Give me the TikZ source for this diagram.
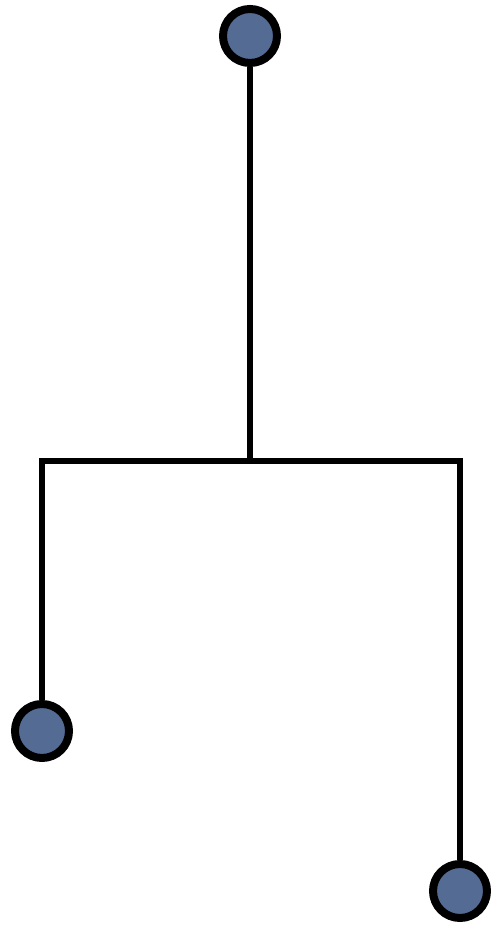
\documentclass[tikz,border=0pt]{standalone}
\usepackage{tikz}

\definecolor{bobblue}{RGB}{84,108,148}

\begin{document}
\begin{tikzpicture}[x=1pt,y=1pt,bob/.style={circle,draw=black,fill=bobblue,line width=8pt,inner sep=0pt,minimum size=54pt},wire/.style={line width=5.5pt,line join=miter}]
\useasboundingbox (0,0) rectangle (490,926);
\node[bob] (top) at (250,890) {};
\node[bob] (left) at (42,195) {};
\node[bob] (right) at (460,35) {};
\coordinate (hub) at (250,465);
% arms of the mobile
\draw[wire] (top) -- (hub);
\draw[wire] (left) |- (hub) -| (right);
\end{tikzpicture}
\end{document}
